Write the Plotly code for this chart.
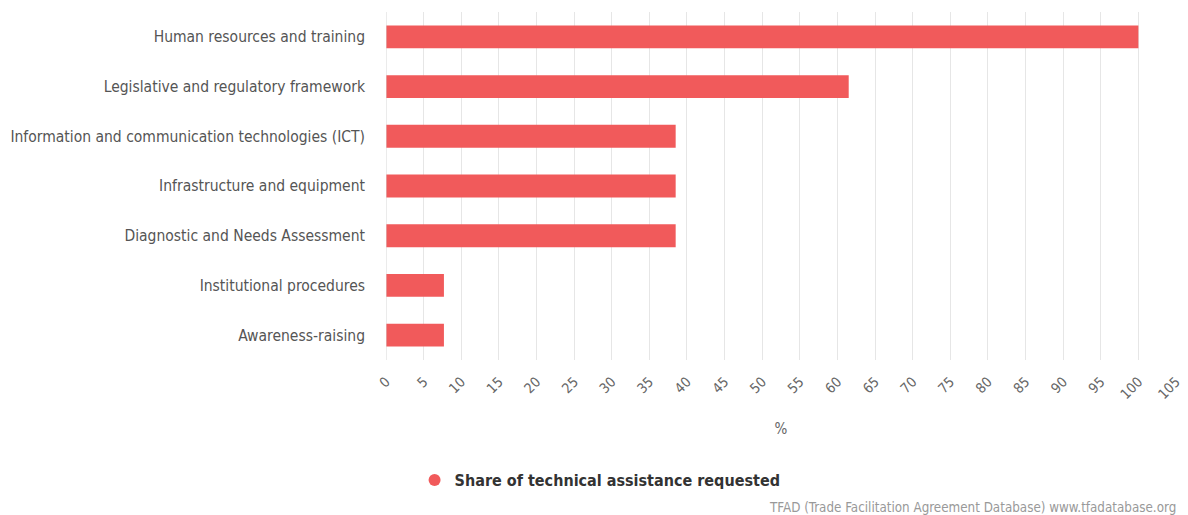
import plotly.graph_objects as go

categories = [
    "Human resources and training",
    "Legislative and regulatory framework",
    "Information and communication technologies (ICT)",
    "Infrastructure and equipment",
    "Diagnostic and Needs Assessment",
    "Institutional procedures",
    "Awareness-raising",
]
share = [100, 61.5, 38.5, 38.5, 38.5, 7.7, 7.7]
series_name = "Share of technical assistance requested"
x_ticks = list(range(0, 110, 5))

bar_color = "#F15A5B"
font_family = "DejaVu Sans Condensed, DejaVu Sans, sans-serif"

fig = go.Figure()
fig.add_trace(go.Bar(
    x=share, y=categories, orientation="h",
    marker=dict(color=bar_color, line=dict(width=0)),
    width=0.46, showlegend=False, name=series_name,
))
# Legend entry with a round symbol
fig.add_trace(go.Scatter(
    x=[None], y=[None], mode="markers", name=series_name,
    marker=dict(color=bar_color, size=17, symbol="circle"),
    showlegend=True,
))

fig.update_layout(
    width=1188, height=515,
    margin=dict(l=386, r=12, t=12, b=155),
    paper_bgcolor="white", plot_bgcolor="white",
    font=dict(family=font_family, color="#666666", size=14),
    legend=dict(
        orientation="h", x=0.271, xanchor="center",
        y=-0.345, yanchor="middle",
        font=dict(size=16, color="#333333", family=font_family, weight="bold"),
        itemsizing="constant",
    ),
)
fig.update_xaxes(
    range=[0, 105], tickvals=x_ticks, ticktext=[str(v) for v in x_ticks],
    tickangle=-45, showgrid=True, gridcolor="#e6e6e6", gridwidth=1,
    zeroline=False, showline=False, ticks="", automargin=False,
    ticklabelstandoff=10,
    tickfont=dict(size=14, color="#666666"),
    title=dict(text="%", font=dict(size=15, color="#666666"), standoff=22),
)
fig.update_yaxes(
    categoryorder="array", categoryarray=categories[::-1],
    showgrid=False, zeroline=False, showline=False, ticks="",
    ticklabelstandoff=20, automargin=False,
    tickfont=dict(size=15.5, color="#555555"),
)
fig.add_vline(x=0, line_color="#d8d8d8", line_width=1)
fig.add_annotation(
    text="TFAD (Trade Facilitation Agreement Database) www.tfadatabase.org",
    xref="paper", yref="paper", x=1.0, y=0, xanchor="right", yanchor="bottom",
    yshift=-157, xshift=2, showarrow=False,
    font=dict(size=13.3, color="#999999", family=font_family),
)
fig.write_html("out.html")
